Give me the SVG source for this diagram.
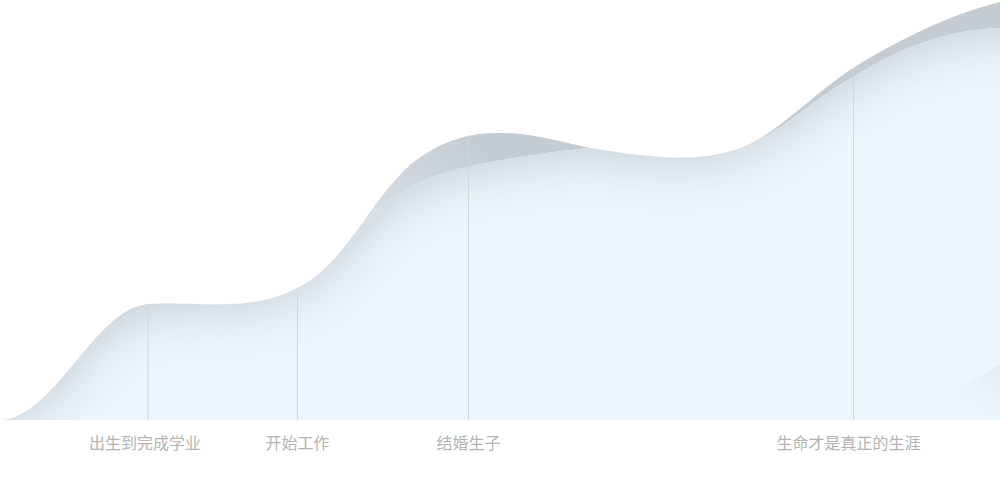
<svg xmlns="http://www.w3.org/2000/svg" width="1000" height="500" viewBox="0 0 1000 500">
  <style>
    .label { font-family: "Noto Sans CJK SC", "Noto Sans", sans-serif; font-size: 16px; fill: #b3b3b3; text-anchor: middle; }
    .vline { stroke: #c9d9e3; stroke-width: 1; }
  </style>
  <defs>
    <clipPath id="area"><rect x="0" y="0" width="1000" height="420"/></clipPath>
    <linearGradient id="band" gradientUnits="userSpaceOnUse" x1="360" y1="230" x2="480" y2="135">
      <stop offset="0" stop-color="#d8dfe5"/>
      <stop offset="1" stop-color="#c4cbd2"/>
    </linearGradient>
    <linearGradient id="swoosh" x1="1" y1="0" x2="0.3" y2="1">
      <stop offset="0" stop-color="#e3e9ee" stop-opacity="0.9"/>
      <stop offset="1" stop-color="#eef5fa" stop-opacity="0"/>
    </linearGradient>
    <filter id="innerShadow" filterUnits="userSpaceOnUse" x="-200" y="-100" width="1400" height="800">
      <feGaussianBlur in="SourceAlpha" stdDeviation="32" result="blur"/>
      <feComposite in="SourceAlpha" in2="blur" operator="arithmetic" k2="1" k3="-1" result="edge"/>
      <feFlood flood-color="#b9c2ca"/>
      <feComposite in2="edge" operator="in" result="shadow"/>
      <feMerge><feMergeNode in="SourceGraphic"/><feMergeNode in="shadow"/></feMerge>
    </filter>
  </defs>

  <g id="mountain" clip-path="url(#area)">
    <path id="silhouette" fill="url(#band)" d="M-100,422 L0,420 C55,418 95,308 148,304 C190,300 250,314 297,288 C321,276.5 339.25,254.5 356.5,231 C373.75,207.5 390,182.5 410,165 C435,145 460,134 495,133 C530,132 560,142 590,148 C640,156 690,164 735,150 C775,137 805,100 853,68 C895,42 945,16 1000,2 L1100,-10 L1100,520 L-100,520 Z"/>
    <path id="inner" fill="#eff7fd" filter="url(#innerShadow)" d="M-100,422 L0,420 C55,418 95,308 148,304 C190,300 250,314 297,288 C321,276.5 339.25,254.5 356.5,231 C376,206 402,189 432,177 C462,166 520,155 590,148 C640,156 690,164 735,150 C775,138 808,102 853,77 C893,52 940,30 1000,28 C1040,27 1080,28 1100,28 L1100,520 L-100,520 Z"/>
    <path id="swooshShape" fill="url(#swoosh)" d="M935,420 L935,402 C955,392 978,378 1000,364 L1000,420 Z"/>
  </g>

  <g id="connectors">
    <line class="vline" x1="148" y1="305" x2="148" y2="420"/>
    <line class="vline" x1="297.5" y1="289" x2="297.5" y2="420"/>
    <line class="vline" x1="468.5" y1="135" x2="468.5" y2="420"/>
    <line class="vline" x1="853.5" y1="69" x2="853.5" y2="420"/>
  </g>

  <g id="node-1"><text class="label" x="145" y="449">出生到完成学业</text></g>
  <g id="node-2"><text class="label" x="297.5" y="449">开始工作</text></g>
  <g id="node-3"><text class="label" x="468.5" y="449">结婚生子</text></g>
  <g id="node-4"><text class="label" x="848.5" y="449">生命才是真正的生涯</text></g>
</svg>
